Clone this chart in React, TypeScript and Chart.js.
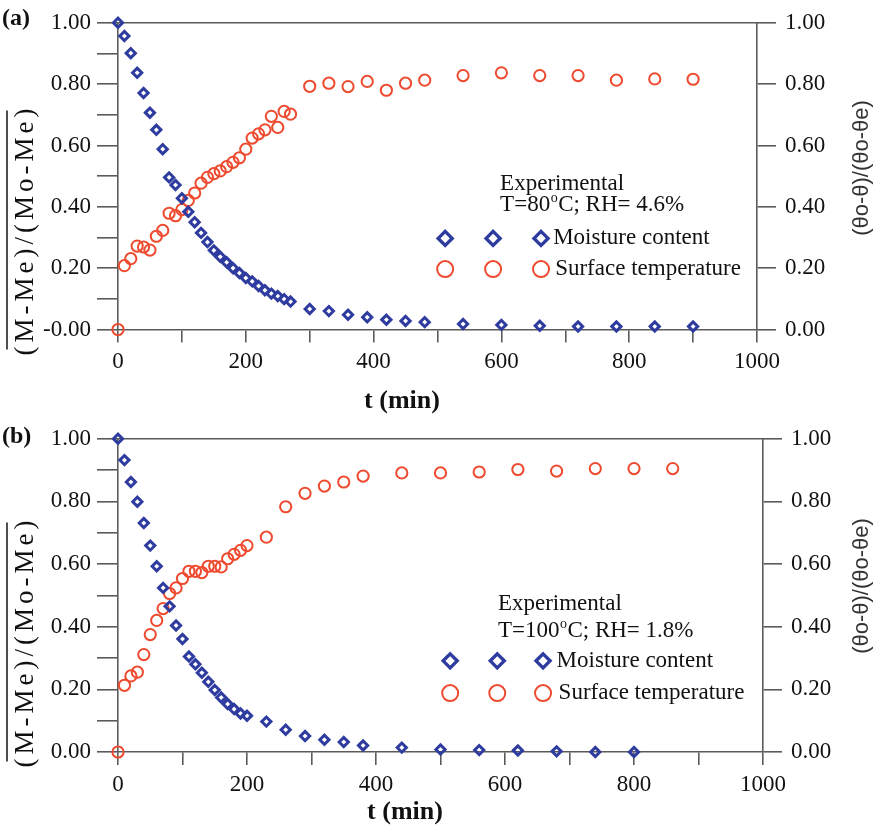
import React, { useEffect, useRef } from 'react';
import { Chart, registerables } from 'chart.js';
Chart.register(...registerables);

const SERIF = '"Liberation Serif", "Times New Roman", serif';
const SANS = '"Liberation Sans", Arial, sans-serif';
const BLUE = '#2f3c9f';
const RED = '#ee4a2f';
const AXIS = '#5b5b5b';

// ---------- Panel (a): T = 80 °C ----------
const timeA = [0, 10, 20, 30, 40, 50, 60, 70, 80, 90, 100, 110, 120, 130, 140, 150, 160, 170, 180, 190, 200, 210, 220, 230, 240, 250, 260, 270, 300, 330, 360, 390, 420, 450, 480, 540, 600, 660, 720, 780, 840, 900];
const moistureA = [1.0, 0.957, 0.901, 0.837, 0.771, 0.707, 0.651, 0.588, 0.496, 0.471, 0.428, 0.384, 0.35, 0.315, 0.285, 0.258, 0.237, 0.219, 0.2, 0.184, 0.168, 0.157, 0.142, 0.128, 0.117, 0.109, 0.099, 0.091, 0.067, 0.06, 0.048, 0.04, 0.032, 0.028, 0.024, 0.018, 0.015, 0.012, 0.01, 0.01, 0.01, 0.01];
const temperatureA = [0, 0.208, 0.231, 0.272, 0.269, 0.259, 0.304, 0.323, 0.379, 0.371, 0.391, 0.421, 0.445, 0.477, 0.496, 0.508, 0.517, 0.531, 0.545, 0.56, 0.588, 0.624, 0.638, 0.651, 0.695, 0.659, 0.711, 0.702, 0.793, 0.803, 0.792, 0.809, 0.78, 0.803, 0.813, 0.828, 0.837, 0.828, 0.828, 0.813, 0.817, 0.816];

// ---------- Panel (b): T = 100 °C ----------
const timeMoistB = [0, 10, 20, 30, 40, 50, 60, 70, 80, 90, 100, 110, 120, 130, 140, 150, 160, 170, 180, 190, 200, 230, 260, 290, 320, 350, 380, 440, 500, 560, 620, 680, 740, 800];
const moistureB = [1.0, 0.932, 0.862, 0.799, 0.731, 0.659, 0.593, 0.524, 0.465, 0.404, 0.361, 0.305, 0.28, 0.253, 0.224, 0.198, 0.174, 0.153, 0.137, 0.123, 0.116, 0.097, 0.071, 0.051, 0.039, 0.032, 0.021, 0.014, 0.008, 0.006, 0.005, 0.002, 0.0, 0.0];
const timeTempB = [0, 10, 20, 30, 40, 50, 60, 70, 80, 90, 100, 110, 120, 130, 140, 150, 160, 170, 180, 190, 200, 230, 260, 290, 320, 350, 380, 440, 500, 560, 620, 680, 740, 800, 860];
const temperatureB = [0, 0.213, 0.243, 0.255, 0.311, 0.375, 0.42, 0.458, 0.506, 0.524, 0.554, 0.577, 0.577, 0.573, 0.593, 0.593, 0.591, 0.617, 0.631, 0.644, 0.659, 0.686, 0.783, 0.826, 0.849, 0.862, 0.881, 0.891, 0.891, 0.894, 0.902, 0.897, 0.905, 0.905, 0.905];

// ---------- Tick labels ----------
const xTickLabels = ['0', '200', '400', '600', '800', '1000'];
const leftTickLabelsA = ['-0.00', '0.20', '0.40', '0.60', '0.80', '1.00'];
const leftTickLabelsB = ['0.00', '0.20', '0.40', '0.60', '0.80', '1.00'];
const rightTickLabels = ['0.00', '0.20', '0.40', '0.60', '0.80', '1.00'];

const seriesNames = ['Moisture content', 'Surface temperature'];
const xTitle = 't (min)';
const leftTitle = '(M-Me)/(Mo-Me)';
const rightTitle = '(θo-θ)/(θo-θe)';

type Panel = {
  tag: string;
  tm: number[]; m: number[]; tt: number[]; tp: number[];
  leftLabels: string[];
  info: string[];
  height: number; topH: number; bottomH: number; rightW: number;
  xTitleX: number; xTitleY: number;
  leftTitleY: number; rightTitleY: number; tagY: number;
  lg: { tx: number; y1: number; y2: number; yd: number; yc: number; mx: number[]; lx: number };
};

const panelA: Panel = {
  tag: '(a)', tm: timeA, m: moistureA, tt: timeA, tp: temperatureA,
  leftLabels: leftTickLabelsA,
  info: ['T=80', 'o', 'C; RH= 4.6%'],
  height: 416, topH: 17, bottomH: 86.5, rightW: 118,
  xTitleX: 402, xTitleY: 401,
  leftTitleY: 230, rightTitleY: 168, tagY: 19,
  lg: { tx: 0.598, y1: 0.525, y2: 0.595, yd: 0.703, yc: 0.803, mx: [0.512, 0.587, 0.662], lx: 0.681 },
};
const panelB: Panel = {
  tag: '(b)', tm: timeMoistB, m: moistureB, tt: timeTempB, tp: temperatureB,
  leftLabels: leftTickLabelsB,
  info: ['T=100', 'o', 'C; RH= 1.8%'],
  height: 417, topH: 20, bottomH: 81, rightW: 112,
  xTitleX: 405, xTitleY: 396,
  leftTitleY: 226, rightTitleY: 170, tagY: 21,
  lg: { tx: 0.589, y1: 0.528, y2: 0.614, yd: 0.709, yc: 0.812, mx: [0.515, 0.588, 0.659], lx: 0.68 },
};

function diamond(ctx: CanvasRenderingContext2D, x: number, y: number, r: number, lw: number) {
  ctx.beginPath();
  ctx.moveTo(x, y - r); ctx.lineTo(x + r, y); ctx.lineTo(x, y + r); ctx.lineTo(x - r, y); ctx.closePath();
  ctx.lineWidth = lw; ctx.strokeStyle = BLUE; ctx.stroke();
}
function circle(ctx: CanvasRenderingContext2D, x: number, y: number, r: number, lw: number) {
  ctx.beginPath(); ctx.arc(x, y, r, 0, Math.PI * 2);
  ctx.lineWidth = lw; ctx.strokeStyle = RED; ctx.stroke();
}

function makeConfig(p: Panel): any {
  const tickFont = { family: SERIF, size: 23 };
  const decor = {
    id: 'decor',
    afterDraw(chart: any) {
      const ctx: CanvasRenderingContext2D = chart.ctx;
      const ca = chart.chartArea;
      const fx = (f: number) => ca.left + f * (ca.right - ca.left);
      const fy = (f: number) => ca.top + f * (ca.bottom - ca.top);
      ctx.save();
      ctx.fillStyle = '#111';
      ctx.textBaseline = 'middle';
      ctx.textAlign = 'left';
      // panel tag
      ctx.font = `bold 24px ${SERIF}`;
      ctx.fillText(p.tag, 2, p.tagY);
      // x axis title
      ctx.save();
      ctx.font = `bold 26px ${SERIF}`;
      ctx.textAlign = 'center';
      ctx.fillText(xTitle, p.xTitleX, p.xTitleY);
      ctx.restore();
      // info text
      ctx.font = `23px ${SERIF}`;
      const x0 = fx(p.lg.tx);
      ctx.fillText('Experimental', x0, fy(p.lg.y1));
      let xx = x0;
      const yInfo = fy(p.lg.y2);
      ctx.fillText(p.info[0], xx, yInfo); xx += ctx.measureText(p.info[0]).width;
      ctx.font = `14px ${SERIF}`;
      ctx.fillText(p.info[1], xx + 0.5, yInfo - 7); xx += ctx.measureText(p.info[1]).width + 1;
      ctx.font = `23px ${SERIF}`;
      ctx.fillText(p.info[2], xx, yInfo);
      // legend rows
      const yd = fy(p.lg.yd), yc = fy(p.lg.yc);
      p.lg.mx.forEach((f) => { diamond(ctx, fx(f), yd, 7, 3.4); circle(ctx, fx(f), yc, 8, 2); });
      ctx.fillStyle = '#111';
      ctx.fillText(seriesNames[0], fx(p.lg.lx), yd);
      ctx.fillText(seriesNames[1], fx(p.lg.lx) + 2, yc);
      // left axis title with overline
      ctx.save();
      ctx.translate(33, p.leftTitleY);
      ctx.rotate(-Math.PI / 2);
      ctx.font = `27px ${SERIF}`;
      (ctx as any).letterSpacing = '4px';
      ctx.textAlign = 'center';
      ctx.textBaseline = 'alphabetic';
      const w = ctx.measureText(leftTitle).width;
      ctx.fillText(leftTitle, 0, 0);
      ctx.beginPath();
      ctx.moveTo(-w / 2 + 6, -26); ctx.lineTo(w / 2 - 6, -26);
      ctx.lineWidth = 1.6; ctx.strokeStyle = '#222'; ctx.stroke();
      ctx.restore();
      // right axis title
      ctx.save();
      ctx.translate(862, p.rightTitleY);
      ctx.rotate(-Math.PI / 2);
      ctx.font = `22px ${SANS}`;
      ctx.fillStyle = '#333';
      ctx.textAlign = 'center';
      ctx.textBaseline = 'middle';
      ctx.fillText(rightTitle, 0, 0);
      ctx.restore();
      ctx.restore();
    },
  };
  return {
    type: 'scatter',
    data: {
      datasets: [
        {
          label: seriesNames[0],
          data: p.tm.map((t, i) => ({ x: t, y: p.m[i] })),
          yAxisID: 'y',
          pointStyle: 'rectRot', pointRadius: 4.6, pointBorderWidth: 3,
          pointBorderColor: BLUE, pointBackgroundColor: 'rgba(0,0,0,0)',
          borderColor: BLUE, backgroundColor: 'rgba(0,0,0,0)', showLine: false, clip: false,
        },
        {
          label: seriesNames[1],
          data: p.tt.map((t, i) => ({ x: t, y: p.tp[i] })),
          yAxisID: 'y2',
          pointStyle: 'circle', pointRadius: 5.6, pointBorderWidth: 2,
          pointBorderColor: RED, pointBackgroundColor: 'rgba(0,0,0,0)',
          borderColor: RED, backgroundColor: 'rgba(0,0,0,0)', showLine: false, clip: false,
        },
      ],
    },
    options: {
      responsive: false,
      maintainAspectRatio: false,
      animation: false,
      events: [],
      layout: { padding: 0 },
      plugins: { legend: { display: false }, tooltip: { enabled: false }, title: { display: false } },
      scales: {
        x: {
          type: 'linear', position: 'bottom', min: 0, max: 1000,
          ticks: {
            stepSize: 100, autoSkip: false, maxRotation: 0, padding: 6, color: '#111', font: tickFont,
            callback: (_v: any, i: number) => (i % 2 === 0 ? xTickLabels[i / 2] : ''),
          },
          grid: { drawOnChartArea: false, drawTicks: true, tickLength: 13, color: AXIS, lineWidth: 1.6 },
          border: { display: true, color: AXIS, width: 1.6 },
          title: { display: false },
          afterFit: (s: any) => { s.height = p.bottomH; },
        },
        xTop: {
          type: 'linear', position: 'top', min: 0, max: 1000,
          ticks: { display: false },
          grid: { display: false, drawTicks: false },
          border: { display: true, color: AXIS, width: 1.6 },
          afterFit: (s: any) => { s.height = p.topH; },
        },
        y: {
          type: 'linear', position: 'left', min: 0, max: 1,
          ticks: {
            stepSize: 0.1, autoSkip: false, padding: 6, color: '#111', font: tickFont,
            callback: (_v: any, i: number) => (i % 2 === 0 ? p.leftLabels[i / 2] : ''),
          },
          grid: { drawOnChartArea: false, drawTicks: true, tickLength: 21, color: AXIS, lineWidth: 1.6 },
          border: { display: true, color: AXIS, width: 1.6 },
          afterFit: (s: any) => { s.width = 118; },
        },
        y2: {
          type: 'linear', position: 'right', min: 0, max: 1,
          ticks: {
            stepSize: 0.2, autoSkip: false, padding: 9, color: '#111', font: tickFont,
            callback: (_v: any, i: number) => rightTickLabels[i],
          },
          grid: { drawOnChartArea: false, drawTicks: true, tickLength: 19, color: AXIS, lineWidth: 1.6 },
          border: { display: true, color: AXIS, width: 1.6 },
          afterFit: (s: any) => { s.width = p.rightW; },
        },
      },
    },
    plugins: [decor],
  };
}

export default function App() {
  const refA = useRef<HTMLCanvasElement>(null);
  const refB = useRef<HTMLCanvasElement>(null);
  useEffect(() => {
    const a = new Chart(refA.current as HTMLCanvasElement, makeConfig(panelA));
    const b = new Chart(refB.current as HTMLCanvasElement, makeConfig(panelB));
    return () => { a.destroy(); b.destroy(); };
  }, []);
  return (
    <div style={{ position: 'absolute', left: 0, top: 0, width: 875, height: 833, background: '#fff' }}>
      <canvas ref={refA} width={875} height={416} style={{ position: 'absolute', left: 0, top: 0, width: 875, height: 416 }} />
      <canvas ref={refB} width={875} height={417} style={{ position: 'absolute', left: 0, top: 416, width: 875, height: 417 }} />
    </div>
  );
}
